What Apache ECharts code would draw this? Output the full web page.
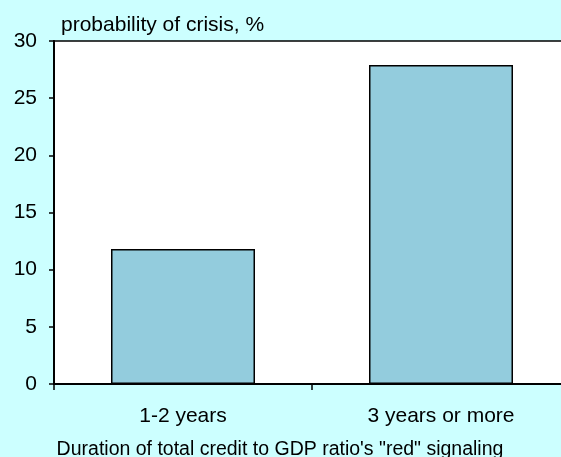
<!DOCTYPE html>
<html>
<head>
<meta charset="utf-8">
<script src="https://cdn.jsdelivr.net/npm/echarts@6/dist/echarts.min.js"></script>
<style>
  html, body { margin: 0; padding: 0; background: #CCFFFF; }
  #chart { width: 561px; height: 457px; }
</style>
</head>
<body>
<div id="chart"></div>
<script>
// Crisis probability by duration of the "red" credit-to-GDP signal
const categories = ['1-2 years', '3 years or more'];
const crisisProbability = [11.8, 27.9];
const yTicks = { min: 0, max: 30, interval: 5 };

const FONT = '"Liberation Sans", Arial, sans-serif';

const chart = echarts.init(document.getElementById('chart'), null, { renderer: 'canvas' });
chart.setOption({
  backgroundColor: '#CCFFFF',
  animation: false,
  title: {
    text: 'probability of crisis, %',
    left: 56,
    top: 10,
    textStyle: { fontFamily: FONT, fontSize: 21, fontWeight: 'normal', color: '#000' }
  },
  grid: {
    left: 54,
    top: 41,
    width: 516,
    bottom: 73,
    outerBoundsMode: 'none',
    containLabel: false,
    show: true,
    backgroundColor: '#FFFFFF',
    borderColor: '#000',
    borderWidth: 1.5
  },
  xAxis: {
    type: 'category',
    data: categories,
    name: 'Duration of total credit to GDP ratio\'s "red" signaling',
    nameLocation: 'middle',
    nameGap: 56,
    nameTextStyle: { fontFamily: FONT, fontSize: 19.5, color: '#000', align: 'center', padding: [0, 64, 0, 0] },
    axisLine: { lineStyle: { color: '#000', width: 2 } },
    axisTick: { show: true, inside: false, length: 6, lineStyle: { color: '#000', width: 1.5 } },
    axisLabel: { fontFamily: FONT, fontSize: 21, color: '#000', margin: 22 }
  },
  yAxis: {
    type: 'value',
    min: yTicks.min,
    max: yTicks.max,
    interval: yTicks.interval,
    splitLine: { show: false },
    axisLine: { show: true, lineStyle: { color: '#000', width: 2 } },
    axisTick: { show: true, inside: false, length: 5, lineStyle: { color: '#000', width: 1.5 } },
    axisLabel: { fontFamily: FONT, fontSize: 21, color: '#000', margin: 17 }
  },
  series: [{
    type: 'bar',
    data: crisisProbability,
    barWidth: 144,
    itemStyle: { color: '#93CCDD', borderColor: '#000', borderWidth: 1.5 }
  }]
});
</script>
</body>
</html>
